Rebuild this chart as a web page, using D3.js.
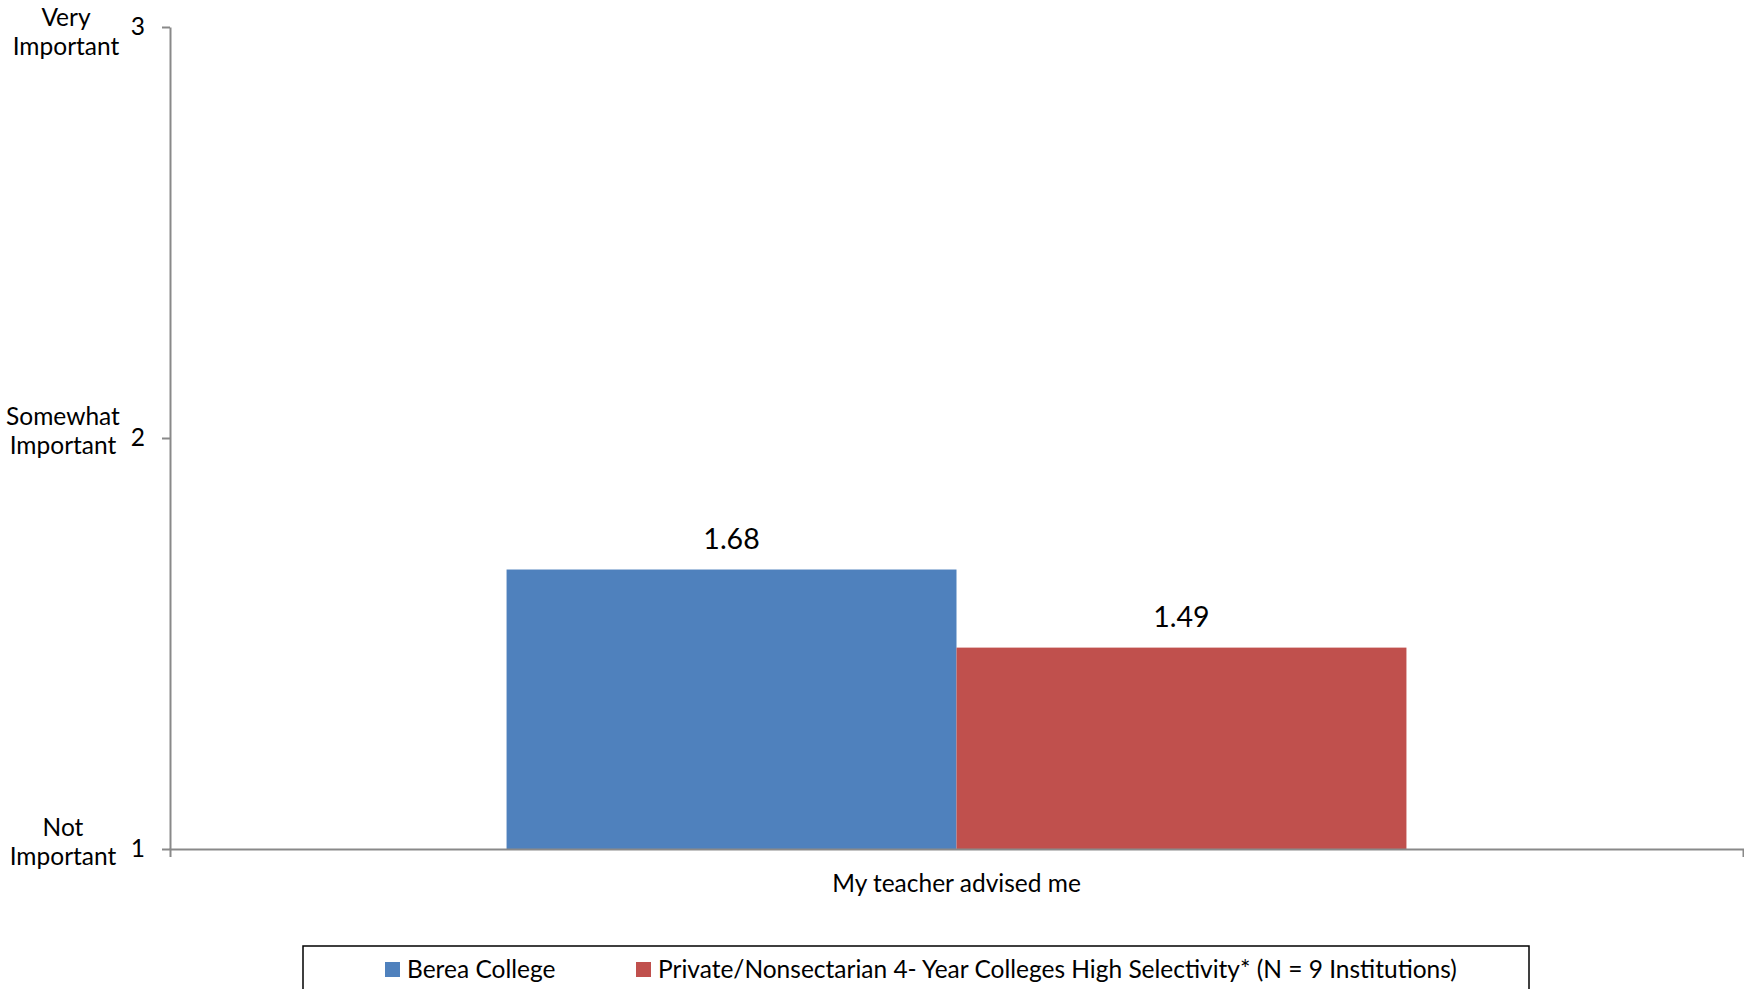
<!DOCTYPE html>
<html>
<head>
<meta charset="utf-8">
<script src="https://cdn.jsdelivr.net/npm/d3@7"></script>
<style>
  html, body { margin: 0; padding: 0; background: #fff; }
  svg { display: block; }
  text { font-family: Lato, "Open Sans", sans-serif; fill: #000; }
</style>
</head>
<body>
<svg id="chart" width="1744" height="989"></svg>
<script>
// Data
const categories = ["My teacher advised me"];
const seriesNames = [
  "Berea College",
  "Private/Nonsectarian 4- Year Colleges High Selectivity* (N = 9 Institutions)"
];
const seriesValues = [[1.68], [1.49]];
const seriesColors = ["#4F81BD", "#C0504D"];
const yTickValues = [1, 2, 3];
const yTickNames = [["Not", "Important"], ["Somewhat", "Important"], ["Very", "Important"]];

const svg = d3.select("#chart");

const plot = { left: 170, right: 1743, top: 27, bottom: 849 };
const textSize = "24.5px";

const y = d3.scaleLinear().domain([1, 3]).range([plot.bottom, plot.top]);

const x0 = d3.scaleBand()
  .domain(categories)
  .range([plot.left, plot.right])
  .paddingInner(0)
  .paddingOuter(0.374);

const x1 = d3.scaleBand()
  .domain(d3.range(seriesNames.length))
  .range([0, x0.bandwidth()])
  .padding(0);

// Bars
const groups = svg.append("g").selectAll("g")
  .data(categories)
  .join("g")
  .attr("transform", d => `translate(${x0(d)},0)`);

groups.selectAll("rect")
  .data((d, ci) => seriesValues.map((vals, si) => ({ si, v: vals[ci] })))
  .join("rect")
  .attr("x", d => x1(d.si))
  .attr("width", x1.bandwidth())
  .attr("y", d => y(d.v))
  .attr("height", d => y(1) - y(d.v))
  .attr("fill", d => seriesColors[d.si]);

// Value labels
groups.selectAll("text.val")
  .data((d, ci) => seriesValues.map((vals, si) => ({ si, v: vals[ci] })))
  .join("text")
  .attr("class", "val")
  .attr("x", d => x1(d.si) + x1.bandwidth() / 2)
  .attr("y", d => y(d.v) - 21)
  .attr("text-anchor", "middle")
  .style("font-size", "28.5px")
  .text(d => d.v.toFixed(2));

// Y axis
const yAxis = svg.append("g")
  .attr("transform", `translate(${plot.left},0)`)
  .call(d3.axisLeft(y).tickValues(yTickValues).tickFormat(d3.format("d"))
    .tickSizeInner(8).tickSizeOuter(0).tickPadding(17));
yAxis.select(".domain").attr("stroke", "#898989").attr("stroke-width", 2);
yAxis.selectAll(".tick line").attr("stroke", "#898989").attr("stroke-width", 2);
yAxis.selectAll(".tick text")
  .style("font-size", textSize)
  .attr("fill", "#000")
  .attr("font-family", null);

// Y category names beside ticks (kept inside the top edge)
const yNames = svg.append("g");
yTickValues.forEach((v, i) => {
  const baseline = Math.max(y(v) - 13, 26);
  const cx = v === 3 ? 66 : 63;
  const t = yNames.append("text")
    .attr("x", cx)
    .attr("y", baseline)
    .attr("text-anchor", "middle")
    .style("font-size", textSize);
  yTickNames[i].forEach((line, li) => {
    t.append("tspan").attr("x", cx).attr("dy", li === 0 ? 0 : 28.5).text(line);
  });
});

// X axis
const xAxis = svg.append("g")
  .attr("transform", `translate(0,${plot.bottom})`)
  .call(d3.axisBottom(x0).tickSizeInner(0).tickSizeOuter(8).tickPadding(0));
xAxis.select(".domain").attr("stroke", "#898989").attr("stroke-width", 2);
xAxis.selectAll(".tick line").remove();
xAxis.selectAll(".tick text")
  .attr("y", 43)
  .attr("dy", 0)
  .style("font-size", textSize)
  .attr("fill", "#000")
  .attr("font-family", null);

// Legend
const legend = svg.append("g");
legend.append("rect")
  .attr("x", 303).attr("y", 946)
  .attr("width", 1226).attr("height", 70)
  .attr("fill", "#fff")
  .attr("stroke", "#000")
  .attr("stroke-width", 1.5);
const legendX = [385, 636];
seriesNames.forEach((name, i) => {
  legend.append("rect")
    .attr("x", legendX[i]).attr("y", 962)
    .attr("width", 15).attr("height", 15)
    .attr("fill", seriesColors[i]);
  legend.append("text")
    .attr("x", legendX[i] + 22).attr("y", 978)
    .style("font-size", textSize)
    .text(name);
});
</script>
</body>
</html>
